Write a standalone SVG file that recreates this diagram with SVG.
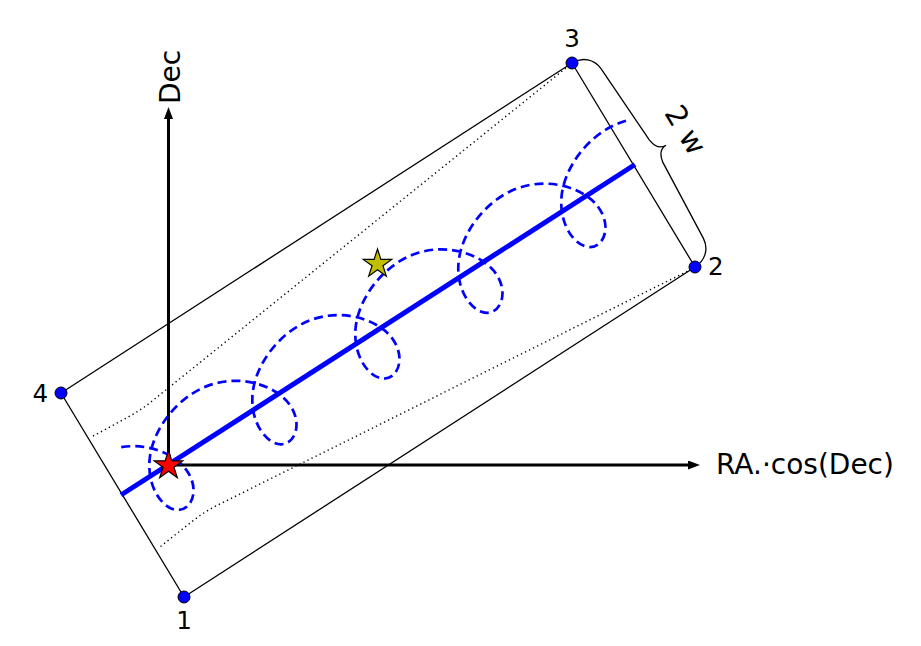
<svg xmlns="http://www.w3.org/2000/svg" width="921" height="646" viewBox="0 0 921 646">
<defs>
<style>
text { font-family: "DejaVu Sans", "Liberation Sans", sans-serif; fill: #000; }
.lbl { font-size: 24.5px; }
.axlbl { font-size: 28px; }
.wlbl { font-size: 29px; }
.edge { stroke: #000; stroke-width: 1.3; fill: none; }
.dotted { stroke: #000; stroke-width: 1.4; stroke-dasharray: 1.3 3.2; fill: none; }
.axis { stroke: #000; stroke-width: 3; fill: none; }
.traj { stroke: #0000ff; stroke-width: 2.7; stroke-dasharray: 9 5; fill: none; }
.pm { stroke: #0000ff; stroke-width: 5; fill: none; }
.corner { fill: #0000ff; stroke: #000; stroke-width: 1; }
.star { stroke: #000; stroke-width: 1.2; }
.brace { stroke: #000; stroke-width: 1.3; fill: none; }
</style>
<marker id="arrow" viewBox="0 0 12 9" refX="0" refY="4.5" markerWidth="12" markerHeight="9" markerUnits="userSpaceOnUse" orient="auto">
<path d="M0,0 L12,4.5 L0,9 Z" fill="#000"/>
</marker>
<path id="starshape" d="M0,-15 L3.368,-4.636 L14.266,-4.635 L5.450,1.771 L8.817,12.135 L0,5.73 L-8.817,12.135 L-5.450,1.771 L-14.266,-4.635 L-3.368,-4.636 Z"/>
</defs>
<rect width="921" height="646" fill="#fff"/>

<g id="connectors">
<g id="band-edges">
<line class="edge" x1="184" y1="597" x2="695" y2="267"/>
<line class="edge" x1="695" y1="267" x2="572" y2="63"/>
<line class="edge" x1="572" y1="63" x2="61" y2="393"/>
<line class="edge" x1="61" y1="393" x2="184" y2="597"/>
</g>
<g id="envelope">
<path class="dotted" d="M93,436.1 L128.25,417.0 Q140.6,410.3 151.55,401.46 L571,64"/>
<path class="dotted" d="M160.5,546.5 L194.3,519.7 Q205.5,511.2 218.1,504.9 L694,268"/>
</g>
<g id="axes">
<line class="axis" x1="168.5" y1="465" x2="688" y2="465" marker-end="url(#arrow)"/>
<line class="axis" x1="168.5" y1="465" x2="168.5" y2="119" marker-end="url(#arrow)"/>
</g>
<line id="proper-motion" class="pm" x1="121" y1="495" x2="635" y2="164.5"/>
<path id="trajectory" class="traj" d="M121.28,447.12 C148.52,442.80 174.57,454.09 186.26,469.83 C200.08,488.44 192.46,509.93 178,510 C163.54,510.07 146.40,487.73 149.75,458.17 C153.10,428.61 177.87,396.17 209.49,385.14 C241.11,374.11 275.42,385.50 289.24,404.11 C303.06,422.72 295.44,444.21 280.98,444.28 C266.52,444.35 249.38,422.01 252.73,392.45 C256.08,362.89 280.85,330.45 312.47,319.42 C344.09,308.39 378.40,319.78 392.22,338.39 C406.04,357.00 398.42,378.49 383.96,378.56 C369.50,378.62 352.36,356.28 355.71,326.72 C359.06,297.16 383.83,264.72 415.45,253.69 C447.07,242.66 481.38,254.05 495.20,272.66 C509.02,291.27 501.40,312.76 486.94,312.83 C472.48,312.90 455.34,290.56 458.69,261.00 C462.04,231.44 486.81,199.00 518.43,187.97 C550.05,176.94 584.36,188.33 598.18,206.94 C612.00,225.55 604.38,247.04 589.92,247.10 C575.46,247.17 558.32,224.83 561.67,195.27 C565.02,165.71 589.79,133.27 621.41,122.24 L627,120.3"/>
</g>

<g id="brace">
<path class="brace" d="M572,63 C582.28,56.80 594.12,59.01 601.17,68.77 L649.44,140.11 C653.90,145.58 660.00,148.91 666.00,145.30 C660.00,148.91 660.10,155.86 662.86,162.38 L703.42,238.36 C708.76,249.16 705.18,260.65 694.90,266.85"/>
<text class="wlbl" text-anchor="middle" transform="translate(677,135) rotate(58.9)">2 w</text>
</g>

<g id="corner-1"><circle class="corner" cx="184" cy="597" r="6"/><text class="lbl" x="184" y="629" text-anchor="middle">1</text></g>
<g id="corner-2"><circle class="corner" cx="695" cy="267" r="6"/><text class="lbl" x="708" y="275">2</text></g>
<g id="corner-3"><circle class="corner" cx="572" cy="63" r="6"/><text class="lbl" x="572" y="47" text-anchor="middle">3</text></g>
<g id="corner-4"><circle class="corner" cx="61" cy="393" r="6"/><text class="lbl" x="48" y="402" text-anchor="end">4</text></g>

<g id="star-ref"><use href="#starshape" class="star" fill="#ff0000" transform="translate(168.5,465.5)"/></g>
<g id="star-obs"><use href="#starshape" class="star" fill="#bfbf00" transform="translate(377.5,264)"/></g>

<g id="axis-labels">
<text class="axlbl" x="716" y="474">RA.·cos(Dec)</text>
<text class="axlbl" transform="translate(180,104) rotate(-90)">Dec</text>
</g>
</svg>
